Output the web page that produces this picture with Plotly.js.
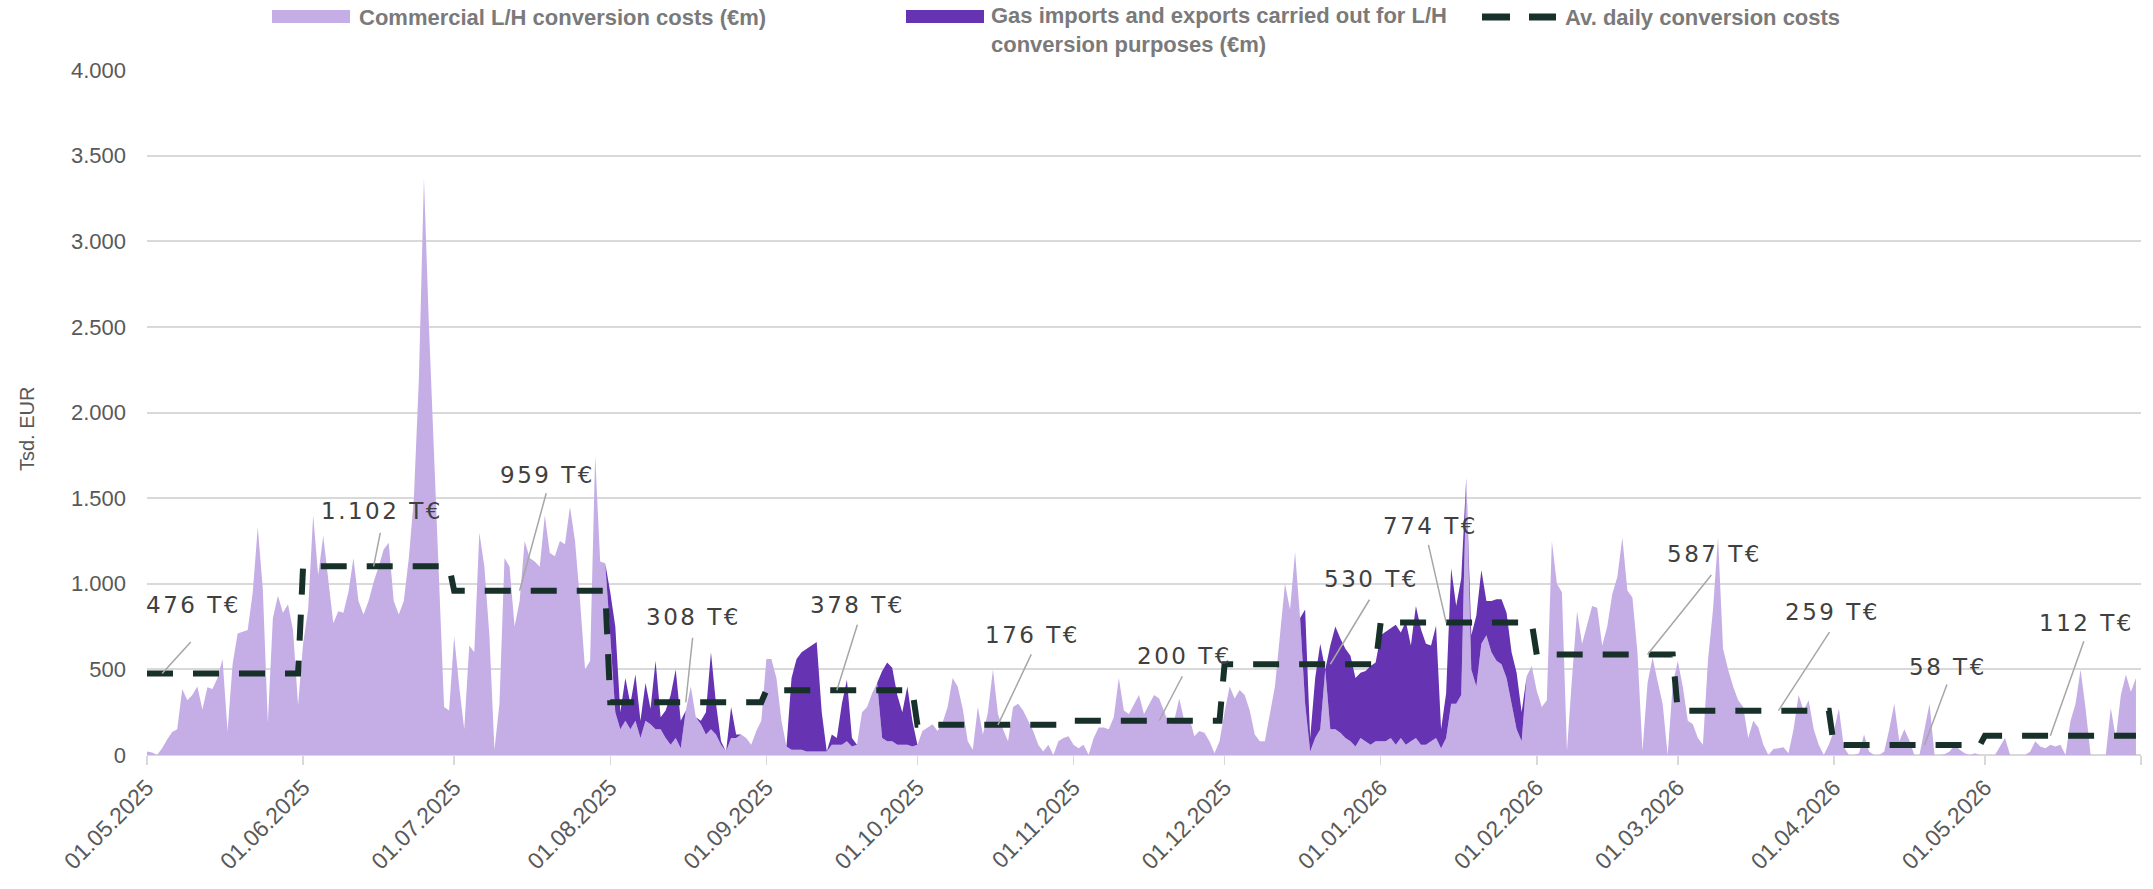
<!DOCTYPE html>
<html>
<head>
<meta charset="utf-8">
<script src="https://cdn.plot.ly/plotly-3.0.1.min.js"></script>
<style>
  html, body { margin: 0; padding: 0; background: #ffffff; }
  #chart { width: 2153px; height: 889px; }
  text.annotation-text[style*="DejaVu"] { letter-spacing: 2.5px; }
</style>
</head>
<body>
<div id="chart"></div>
<script>
// ---------------- DATA (daily values, Tsd. EUR) ----------------
const firstDay = '2025-05-01';

// Commercial L/H conversion costs, one array per month
const comm_2025_05 = [20,15,0,40,90,135,150,385,320,350,400,265,395,385,450,560,140,530,710,720,730,950,1330,970,190,800,930,830,880,730,290];
const comm_2025_06 = [650,850,1400,1050,1280,1030,770,840,830,950,1150,900,820,900,1010,1100,1200,1240,900,820,900,1150,1500,2200,3370,2500,1750,1050,280,260];
const comm_2025_07 = [694,400,150,640,600,1300,1100,700,30,300,1150,1100,750,900,1250,1150,1130,1100,1400,1180,1160,1250,1230,1450,1250,900,500,550,1750,1130,1120];
const comm_2025_08 = [700,250,150,200,150,200,100,200,180,150,150,100,60,100,40,260,400,220,180,120,150,120,60,20,100,100,120,100,60,140,200];
const comm_2025_09 = [560,560,450,200,50,30,30,30,20,20,20,20,20,60,60,60,80,50,60,250,280,360,420,100,80,80,60,60,60,50];
const comm_2025_10 = [60,140,160,180,140,190,280,450,400,270,80,30,280,120,250,500,240,150,80,280,300,260,200,140,60,20,60,0,80,100,110];
const comm_2025_11 = [60,40,60,0,100,160,160,150,220,450,260,240,300,350,240,300,350,330,260,180,200,330,200,220,110,140,130,80,10,80];
const comm_2025_12 = [250,400,330,380,350,260,120,80,80,250,400,700,1000,850,1185,800,300,20,100,150,500,150,150,130,100,80,50,100,80,60,80];
const comm_2026_01 = [80,80,100,60,100,60,80,100,60,60,80,100,40,100,300,300,350,1620,500,400,650,700,600,550,530,450,300,150,80,460,520];
const comm_2026_02 = [375,280,320,1250,1000,950,25,450,840,650,760,870,860,640,750,940,1040,1270,960,920,600,25,420,570,430,300,0,410];
const comm_2026_03 = [550,400,200,180,100,60,550,850,1270,620,500,400,320,280,100,200,160,60,0,35,40,45,10,150,350,260,320,150,60,0,60];
const comm_2026_04 = [140,270,45,0,0,10,120,20,0,0,20,150,300,80,150,85,0,0,150,300,0,0,5,20,60,30,10,0,10,0];
const comm_2026_05 = [0,0,0,50,100,0,0,0,0,20,80,50,40,60,50,60,0,200,300,500,270,0,0,0,0,275,100,350,470,370,450];

// Gas imports and exports carried out for L/H conversion purposes, one array per month
const gas_2025_05 = [0,0,0,0,0,0,0,0,0,0,0,0,0,0,0,0,0,0,0,0,0,0,0,0,0,0,0,0,0,0,0];
const gas_2025_06 = [0,0,0,0,0,0,0,0,0,0,0,0,0,0,0,0,0,0,0,0,0,0,0,0,0,0,0,0,0,0];
const gas_2025_07 = [0,0,0,0,0,0,0,0,0,0,0,0,0,0,0,0,0,0,0,0,0,0,0,0,0,0,0,0,0,0,0];
const gas_2025_08 = [250,500,100,250,150,270,100,220,90,400,70,160,290,400,160,0,0,0,20,130,450,180,20,0,180,20,0,0,0,0,0];
const gas_2025_09 = [0,0,0,0,0,420,530,570,600,620,640,230,0,60,40,240,360,50,0,0,0,0,0,390,460,430,290,190,340,150];
const gas_2025_10 = [0,0,0,0,0,0,0,0,0,0,0,0,0,0,0,0,0,0,0,0,0,0,0,0,0,0,0,0,0,0,0];
const gas_2025_11 = [0,0,0,0,0,0,0,0,0,0,0,0,0,0,0,0,0,0,0,0,0,0,0,0,0,0,0,0,0,0];
const gas_2025_12 = [0,0,0,0,0,0,0,0,0,0,0,0,0,0,0,0,550,80,350,500,0,490,600,550,520,500,400,380,410,460,460];
const gas_2026_01 = [620,640,640,700,615,720,560,770,675,590,560,655,110,260,790,570,680,0,200,415,430,200,300,360,380,380,300,330,170,0,0];
const gas_2026_02 = [0,0,0,0,0,0,0,0,0,0,0,0,0,0,0,0,0,0,0,0,0,0,0,0,0,0,0,0];
const gas_2026_03 = [0,0,0,0,0,0,0,0,0,0,0,0,0,0,0,0,0,0,0,0,0,0,0,0,0,0,0,0,0,0,0];
const gas_2026_04 = [0,0,0,0,0,0,0,0,0,0,0,0,0,0,0,0,0,0,0,0,0,0,0,0,0,0,0,0,0,0];
const gas_2026_05 = [0,0,0,0,0,0,0,0,0,0,0,0,0,0,0,0,0,0,0,0,0,0,0,0,0,0,0,0,0,0,0];

// Monthly average daily conversion costs (dashed step line) and month starts
const monthStarts = ['2025-05-01','2025-06-01','2025-07-01','2025-08-01','2025-09-01','2025-10-01','2025-11-01','2025-12-01','2026-01-01','2026-02-01','2026-03-01','2026-04-01','2026-05-01'];
const monthlyAvg  = [476, 1102, 959, 308, 378, 176, 200, 530, 774, 587, 259, 58, 112];

// Day of the month at which each average label points
const labelDates = ['2025-05-04','2025-06-15','2025-07-14','2025-08-16','2025-09-15','2025-10-17','2025-11-18','2025-12-22','2026-01-14','2026-02-23','2026-03-21','2026-04-19','2026-05-14'];

// Axis ticks
const tickDates  = ['2025-05-01','2025-06-01','2025-07-01','2025-08-01','2025-09-01','2025-10-01','2025-11-01','2025-12-01','2026-01-01','2026-02-01','2026-03-01','2026-04-01','2026-05-01','2026-06-01'];
const tickLabels = ['01.05.2025','01.06.2025','01.07.2025','01.08.2025','01.09.2025','01.10.2025','01.11.2025','01.12.2025','01.01.2026','01.02.2026','01.03.2026','01.04.2026','01.05.2026',''];

const seriesNames = ['Commercial L/H conversion costs (€m)', 'Gas imports and exports carried out for L/H<br>conversion purposes (€m)', 'Av. daily conversion costs'];
const yAxisTitle = 'Tsd. EUR';

// ---------------- BUILD ----------------
const commercial = [].concat(comm_2025_05, comm_2025_06, comm_2025_07, comm_2025_08, comm_2025_09, comm_2025_10, comm_2025_11, comm_2025_12, comm_2026_01, comm_2026_02, comm_2026_03, comm_2026_04, comm_2026_05);
const gas = [].concat(gas_2025_05, gas_2025_06, gas_2025_07, gas_2025_08, gas_2025_09, gas_2025_10, gas_2025_11, gas_2025_12, gas_2026_01, gas_2026_02, gas_2026_03, gas_2026_04, gas_2026_05);

function isoDay(d) { return d.toISOString().slice(0, 10); }
const days = commercial.map((_, i) => {
  const d = new Date(firstDay + 'T00:00:00Z');
  d.setUTCDate(d.getUTCDate() + i);
  return isoDay(d);
});

// step line: each month from its first to its last day
const avgX = [], avgY = [];
monthStarts.forEach((m, i) => {
  const s = new Date(m + 'T00:00:00Z');
  const e = new Date(Date.UTC(s.getUTCFullYear(), s.getUTCMonth() + 1, 0));
  avgX.push(m, isoDay(e));
  avgY.push(monthlyAvg[i], monthlyAvg[i]);
});

function fmtDE(v) { return String(v).replace(/\B(?=(\d{3})+(?!\d))/g, '.'); }

// ---------------- STYLE / LAYOUT ----------------
const LIGHT = '#c5aee6';
const DARK  = '#6633b2';
const AVG   = '#17312a';
const GRID  = '#d9d9d9';

const plotL = 147, plotR = 2141, plotT = 70, plotB = 755;
const W = 2153, H = 889;
function px(x) { return (x - plotL) / (plotR - plotL); }
function py(y) { return (plotB - y) / (plotB - plotT); }

// label placement (pixels relative to the labelled point): text centre and leader-line tail
const labelOffsets = [
  [30,-68, 30,-33], [7,-55, 7,-35], [27,-116, 27,-99], [7,-85, 7,-66],
  [20,-85, 21,-67], [34,-90, 34,-72], [24,-65, 24,-46], [40,-85, 40,-66],
  [-17,-96, -18,-79], [66,-100, 65,-81], [53,-99, 52,-80], [23,-78, 23,-62],
  [35,-113, 34,-96]
];

const traces = [
  { x: days, y: commercial, name: seriesNames[0], type: 'scatter', mode: 'lines',
    stackgroup: 'one', fillcolor: LIGHT, line: { width: 0, color: LIGHT }, hoverinfo: 'skip' },
  { x: days, y: gas, name: seriesNames[1], type: 'scatter', mode: 'lines',
    stackgroup: 'one', fillcolor: DARK, line: { width: 0, color: DARK }, hoverinfo: 'skip' },
  { x: avgX, y: avgY, name: seriesNames[2], type: 'scatter', mode: 'lines',
    line: { color: AVG, width: 6, dash: '26px,20px' }, hoverinfo: 'skip' }
];

const annotations = [];
const labelFont = { family: 'DejaVu Sans, Liberation Sans, sans-serif', size: 23, color: '#404040' };
monthlyAvg.forEach((v, i) => {
  const o = labelOffsets[i];
  annotations.push({ x: labelDates[i], y: v, xref: 'x', yref: 'y', text: fmtDE(v) + ' T€',
    showarrow: false, xshift: o[0] + 1, yshift: -o[1], xanchor: 'center', yanchor: 'middle', font: labelFont });
  annotations.push({ x: labelDates[i], y: v, xref: 'x', yref: 'y', text: '',
    showarrow: true, arrowhead: 0, arrowwidth: 1.5, arrowcolor: '#a6a6a6', standoff: 0,
    ax: o[2], ay: o[3] });
});

// legend (drawn manually)
const legFont = { family: 'Liberation Sans, Arial, sans-serif', size: 22, color: '#7a7a7a', weight: 'bold' };
annotations.push(
  { xref: 'paper', yref: 'paper', x: px(357), y: py(17), xanchor: 'left', yanchor: 'middle', showarrow: false, text: seriesNames[0], font: legFont },
  { xref: 'paper', yref: 'paper', x: px(989), y: py(30), xanchor: 'left', yanchor: 'middle', align: 'left', showarrow: false, text: seriesNames[1], font: legFont },
  { xref: 'paper', yref: 'paper', x: px(1563), y: py(17), xanchor: 'left', yanchor: 'middle', showarrow: false, text: seriesNames[2], font: legFont },
  { xref: 'paper', yref: 'paper', x: px(27), y: py(429), xanchor: 'center', yanchor: 'middle', textangle: -90, showarrow: false, text: yAxisTitle,
    font: { family: 'Liberation Sans, Arial, sans-serif', size: 20, color: '#595959' } }
);
const shapes = [
  { type: 'rect', xref: 'paper', yref: 'paper', x0: px(272), x1: px(350), y0: py(23), y1: py(10), fillcolor: LIGHT, line: { width: 0 } },
  { type: 'rect', xref: 'paper', yref: 'paper', x0: px(906), x1: px(984), y0: py(23), y1: py(10), fillcolor: DARK, line: { width: 0 } },
  { type: 'line', xref: 'paper', yref: 'paper', x0: px(1482), x1: px(1510), y0: py(17), y1: py(17), line: { color: AVG, width: 7 } },
  { type: 'line', xref: 'paper', yref: 'paper', x0: px(1529), x1: px(1556), y0: py(17), y1: py(17), line: { color: AVG, width: 7 } }
];

const tickFont = { family: 'Liberation Sans, Arial, sans-serif', size: 22, color: '#595959' };
const xTickFont = { family: 'Liberation Sans, Arial, sans-serif', size: 23, color: '#595959' };

const layout = {
  width: W, height: H,
  margin: { l: plotL, r: W - plotR, t: plotT, b: H - plotB, pad: 0 },
  paper_bgcolor: '#ffffff', plot_bgcolor: '#ffffff',
  separators: ',.',
  showlegend: false,
  hovermode: false,
  xaxis: {
    type: 'date', range: ['2025-05-01', '2026-06-01'],
    tickmode: 'array', tickvals: tickDates, ticktext: tickLabels,
    tickangle: -45, tickfont: xTickFont,
    ticks: 'outside', ticklen: 9, tickwidth: 1.5, tickcolor: GRID,
    showgrid: false, zeroline: false, showline: false, fixedrange: true
  },
  yaxis: {
    range: [0, 4000], dtick: 500, tick0: 0, tickformat: ',d',
    tickfont: tickFont, ticks: '', ticklabelstandoff: 20,
    showgrid: true, gridcolor: GRID, gridwidth: 2,
    zeroline: true, zerolinecolor: GRID, zerolinewidth: 2,
    showline: false, fixedrange: true
  },
  annotations: annotations,
  shapes: shapes
};

Plotly.newPlot('chart', traces, layout, { staticPlot: true, displayModeBar: false });
</script>
</body>
</html>
